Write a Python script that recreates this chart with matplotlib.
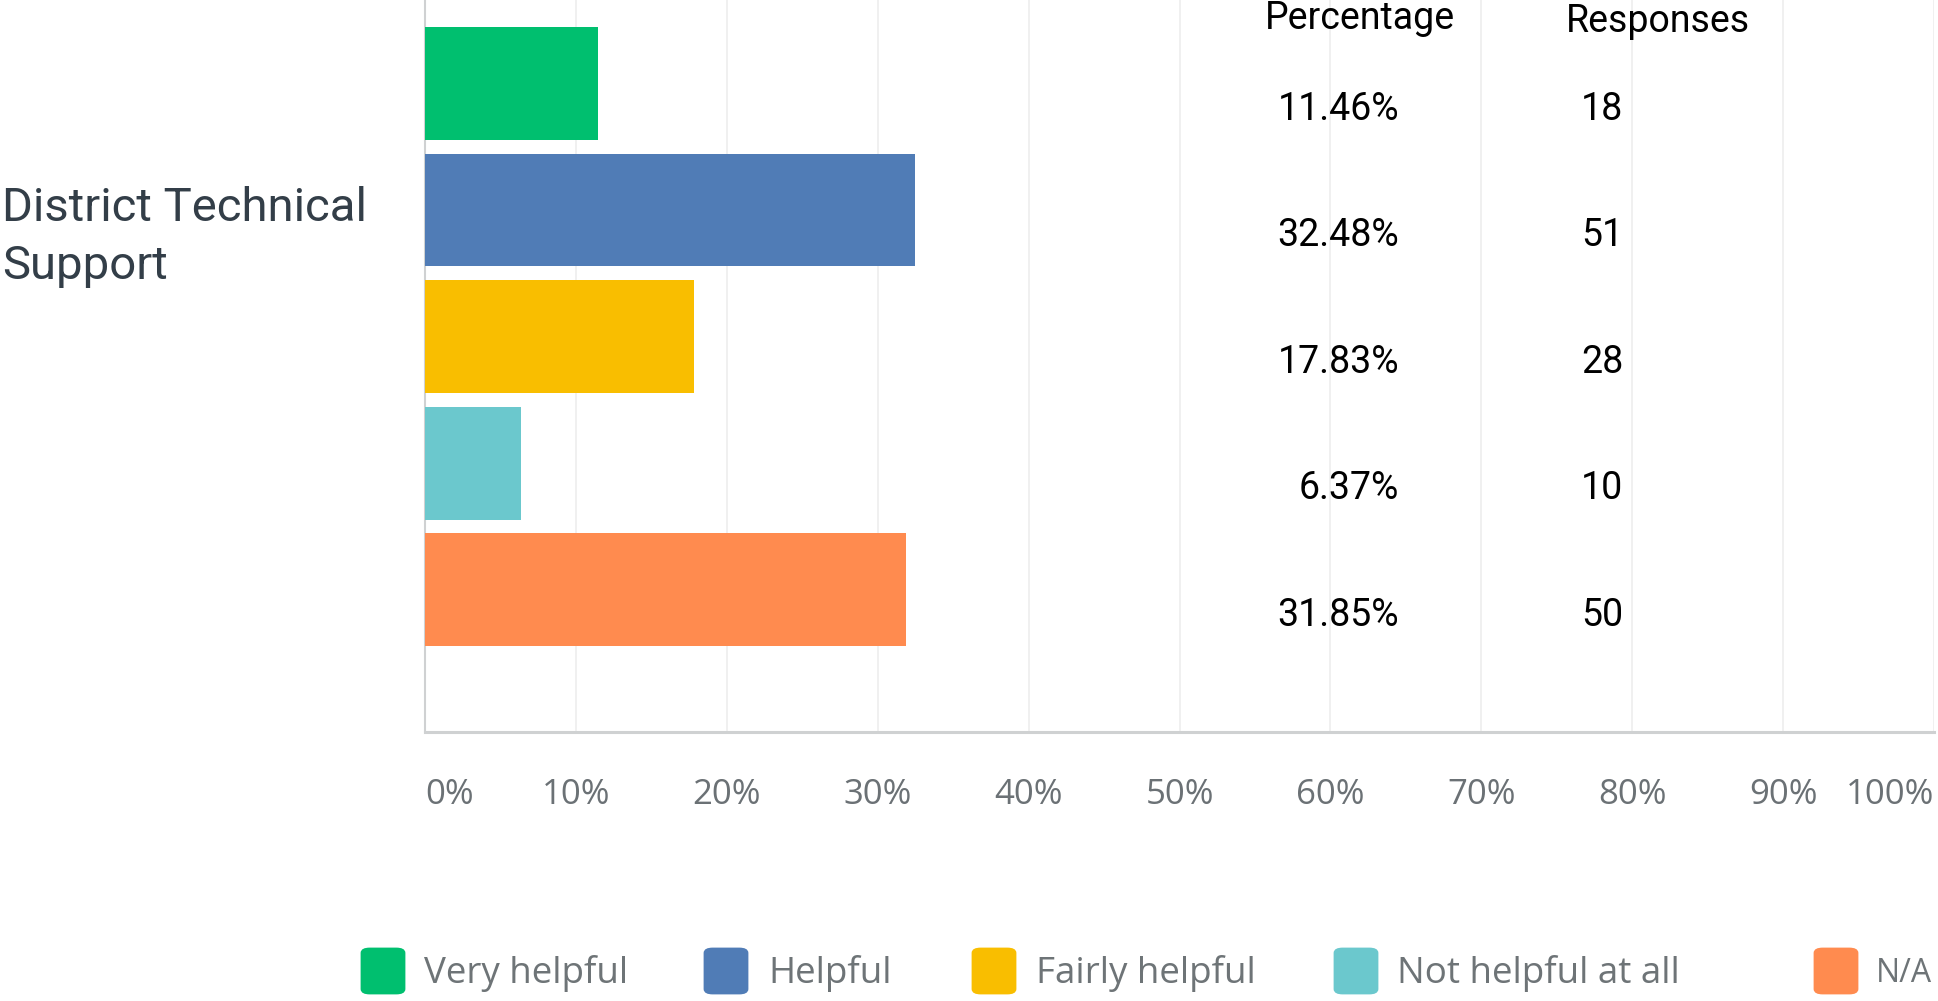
import numpy as np
import matplotlib
matplotlib.use("Agg")
import matplotlib.pyplot as plt
from matplotlib.patches import FancyBboxPatch
from matplotlib.transforms import blended_transform_factory

# ---- data ----
category = "District Technical\nSupport"
answers = ["Very helpful", "Helpful", "Fairly helpful", "Not helpful at all", "N/A"]
percentages = [11.46, 32.48, 17.83, 6.37, 31.85]
responses = [18, 51, 28, 10, 50]
colors = ["#00BF6F", "#507CB6", "#F9BE00", "#6BC8CD", "#FF8B4F"]
xticks = [0, 10, 20, 30, 40, 50, 60, 70, 80, 90, 100]
xtick_labels = [f"{t}%" for t in xticks]

W, H = 1938, 1001
fig = plt.figure(figsize=(W / 100, H / 100), dpi=100)
fig.patch.set_facecolor("white")

def fx(px):
    return px / W

def fy(py):
    return 1 - py / H

ax = fig.add_axes([fx(425), fy(732), (1934 - 425) / W, 732 / H])
y = np.arange(len(percentages))
ax.barh(y, percentages, height=0.893, color=colors, zorder=3)
ax.set_xlim(0, 100)
ax.set_ylim(5.126, -0.66)

# grid & spines
ax.set_xticks(xticks)
ax.grid(axis="x", color="#EDEEEE", linewidth=1.2, zorder=0)
ax.set_axisbelow(True)
for s in ["top", "right"]:
    ax.spines[s].set_visible(False)
ax.spines["bottom"].set_color("#CFD1D2")
ax.spines["bottom"].set_linewidth(2.2)
ax.spines["left"].set_color("#CFD1D2")
ax.spines["left"].set_linewidth(1.5)
ax.set_yticks([])
ax.tick_params(axis="x", length=0, pad=33)
ax.set_xticklabels(xtick_labels, fontsize=25, color="#6B7175",
                   fontfamily=["Open Sans", "DejaVu Sans"])
lbls = ax.get_xticklabels()
lbls[0].set_ha("left")
lbls[-1].set_ha("right")

# category label
fig.text(fx(2), fy(237), category, ha="left", va="center", fontsize=34,
         color="#333E48", fontfamily=["Roboto", "DejaVu Sans"], linespacing=1.38)

# table headers
tfam = ["Roboto", "DejaVu Sans"]
fig.text(fx(1360), fy(29), "Percentage", ha="center", va="baseline",
         fontsize=27, color="black", fontfamily=tfam)
fig.text(fx(1658), fy(32), "Responses", ha="center", va="baseline",
         fontsize=27, color="black", fontfamily=tfam)

tr = blended_transform_factory(fig.transFigure, ax.transData)
for i, (p, r) in enumerate(zip(percentages, responses)):
    ax.text(fx(1399), i + 0.205, f"{p:.2f}%", transform=tr, ha="right",
            va="center", fontsize=27, color="black", fontfamily=tfam)
    ax.text(fx(1581), i + 0.205, f"{r}", transform=tr, ha="left",
            va="center", fontsize=27, color="black", fontfamily=tfam)

# legend
sq_x = [358, 701, 969, 1331, 1811]
lab_x = [424, 768, 1036, 1397, 1876]
lab_size = [26.5, 26.5, 26.5, 26.5, 23]
for c, lab, sx, lx, fs in zip(colors, answers, sq_x, lab_x, lab_size):
    patch = FancyBboxPatch((fx(sx + 4), fy(993)), fx(42), (993 - 949) / H,
                           boxstyle="round,pad=0.0,rounding_size=0.004",
                           transform=fig.transFigure, facecolor=c,
                           edgecolor=c, linewidth=2)
    fig.patches.append(patch)
    fig.text(fx(lx), fy(973), lab, ha="left", va="center", fontsize=fs,
             color="#6E7477", fontfamily=["Open Sans", "DejaVu Sans"])

fig.savefig("out.png", dpi=100, facecolor="white")
